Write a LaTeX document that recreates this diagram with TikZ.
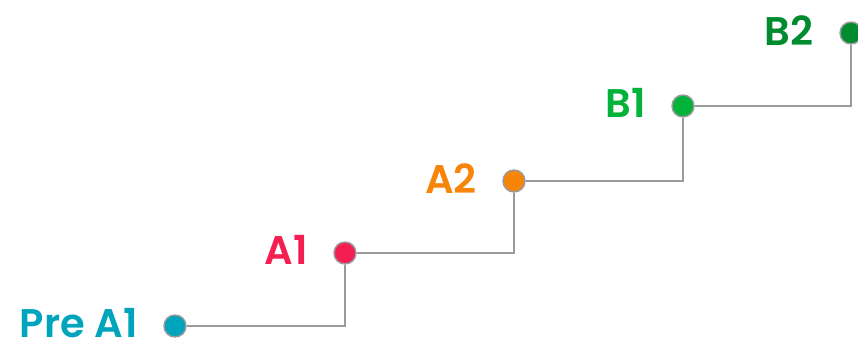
\documentclass[tikz,border=0pt]{standalone}
\usepackage{fontspec}
\setmainfont{Poppins}[BoldFont={Poppins SemiBold}]
\usepackage{xcolor}
\usepackage{tikz}
\usetikzlibrary{positioning}
\definecolor{lvcyan}{HTML}{00A5BD}
\definecolor{lvrose}{HTML}{F51E50}
\definecolor{lvorange}{HTML}{F7850A}
\definecolor{lvgreen}{HTML}{03B339}
\definecolor{lvdarkgreen}{HTML}{008C2E}
\definecolor{railgray}{HTML}{9A9A9E}

\begin{document}
\begin{tikzpicture}[x=0.75pt,y=0.75pt,
  dot/.style={circle,draw=railgray,line width=1.1pt,inner sep=0pt,minimum size=16.5pt},
  lvl/.style={font=\fontsize{30}{30}\selectfont\bfseries,inner sep=0pt,yshift=2pt},
  railline/.style={railgray,line width=1.8pt}]
  \useasboundingbox (0,0) rectangle (858,337);
  \node[dot,fill=lvcyan] (pa1) at (175,11) {};
  \node[dot,fill=lvrose] (a1) at (345,84) {};
  \node[dot,fill=lvorange] (a2) at (514,156) {};
  \node[dot,fill=lvgreen] (b1) at (683,231) {};
  \node[dot,fill=lvdarkgreen] (b2) at (851,304) {};
  \node[lvl,lvcyan,left=19pt of pa1] (tpa1) {Pre A1};
  \node[lvl,lvrose,left=19pt of a1] (ta1) {A1};
  \node[lvl,lvorange,left=19pt of a2] (ta2) {A2};
  \node[lvl,lvgreen,left=19pt of b1] (tb1) {B1};
  \node[lvl,lvdarkgreen,left=19pt of b2] (tb2) {B2};
  \draw[railline] (pa1) -- (pa1 -| a1) -- (a1);
  \draw[railline] (a1) -- (a1 -| a2) -- (a2);
  \draw[railline] (a2) -- (a2 -| b1) -- (b1);
  \draw[railline] (b1) -- (b1 -| b2) -- (b2);
\end{tikzpicture}
\end{document}
